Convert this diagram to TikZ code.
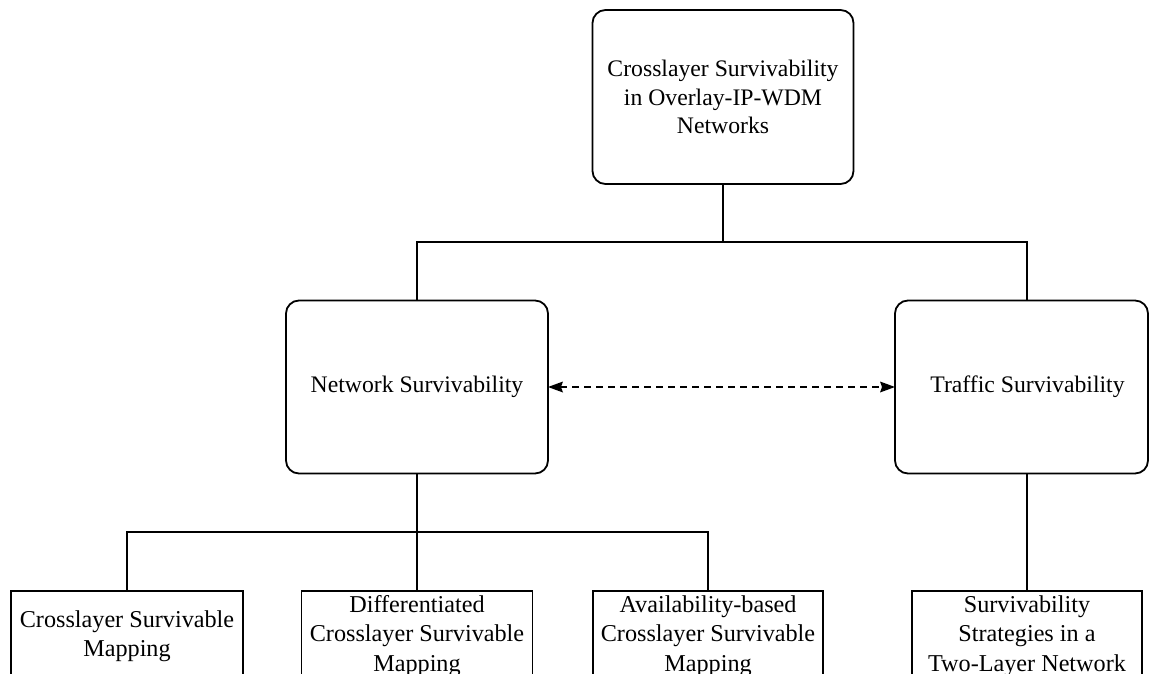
\documentclass[tikz,border=0pt]{standalone}
\usepackage{fontspec}
\setmainfont{Liberation Serif}
\begin{document}
\begin{tikzpicture}[x=1pt,y=-1pt,
  box/.style={draw=black, line width=1.8pt, inner sep=0pt, outer sep=0pt, align=center,
    font=\fontsize{23.7pt}{28.4pt}\selectfont},
  rbox/.style={box, rounded corners=13pt},
  lbox/.style={box, minimum width=231pt, minimum height=90pt,
    font=\fontsize{24.2pt}{29.5pt}\selectfont},
  conn/.style={line width=1.8pt},
  dconn/.style={line width=2pt, dash pattern=on 7pt off 5pt, shorten <=12pt, shorten >=12pt},
  tipfill/.style={fill=black}
]
\useasboundingbox (0,0) rectangle (1151,674);
\clip (0,0) rectangle (1151,674);
\fill[white] (0,0) rectangle (1151,674);
\node[rbox, minimum width=261pt, minimum height=174pt] (top) at (723,97)
  {Crosslayer Survivability\\in Overlay-IP-WDM\\Networks};
\node[rbox, minimum width=262pt, minimum height=173pt] (net) at (417,387)
  {Network Survivability};
\node[rbox, minimum width=253pt, minimum height=173pt] (traf) at (1021.5,387)
  {\hspace*{12pt}Traffic Survivability};
\node[lbox, minimum width=232pt, anchor=north] (b1) at (127,591) {Crosslayer Survivable\\Mapping};
\node[lbox, anchor=north] (b2) at (417,591) {Differentiated\\Crosslayer Survivable\\Mapping};
\node[lbox, minimum width=230pt, anchor=north] (b3) at (708,591) {Availability-based\\Crosslayer Survivable\\Mapping};
\node[lbox, minimum width=230pt, anchor=north] (b4) at (1027,591) {Survivability\\Strategies in a\\Two-Layer Network};
% top connectors
\coordinate (hl) at (417,242);
\coordinate (hr) at (1027,242);
\draw[conn] (top.south) -- (top.south |- hl);
\draw[conn] (net.north) -- (hl) -- (hr) -- (hr |- traf.north);
% dashed link with arrowheads
\draw[dconn] (net.east) -- (traf.west);
\fill[tipfill] (net.east) -- ++(15,-5.5) -- ++(-2,5.5) -- ++(2,5.5) -- cycle;
\fill[tipfill] (traf.west) -- ++(-15,-5.5) -- ++(2,5.5) -- ++(-2,5.5) -- cycle;
% bottom connectors
\coordinate (bl) at (127,532);
\draw[conn] (net.south) -- (b2.north);
\draw[conn] (b1.north) -- (bl) -- (bl -| b3.north) -- (b3.north);
\draw[conn] (b4.north |- traf.south) -- (b4.north);
\end{tikzpicture}
\end{document}
